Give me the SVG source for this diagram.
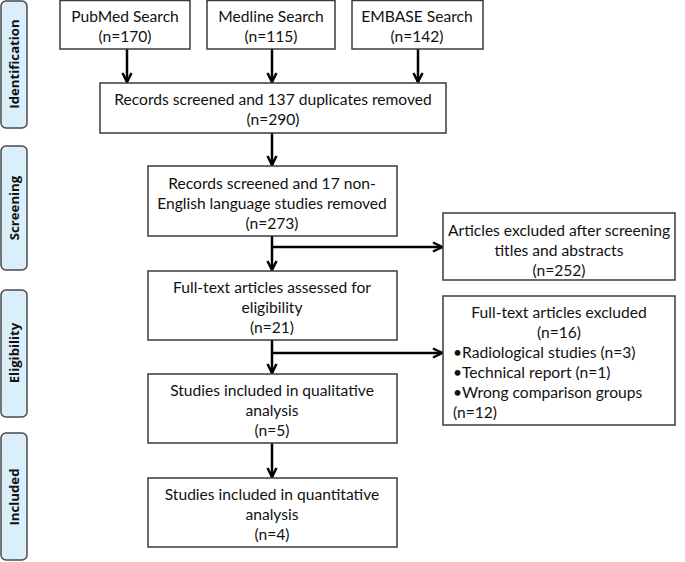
<svg xmlns="http://www.w3.org/2000/svg" width="685" height="562" viewBox="0 0 685 562">
<defs>
<style>
.box{fill:#fff;stroke:#3a3a3a;stroke-width:1.5}
.side{fill:#dbeefb;stroke:#4a4a4a;stroke-width:1.5}
.t{font-family:Lato,"Open Sans",sans-serif;font-size:15.6px;fill:#111;text-anchor:middle}
.tl{font-family:Lato,"Open Sans",sans-serif;font-size:15.6px;fill:#111}
.s{font-family:"Open Sans","DejaVu Sans",sans-serif;font-size:13.2px;font-weight:bold;fill:#111;text-anchor:middle}
.c{stroke:#000;stroke-width:2.5;fill:none;marker-end:url(#ah)}
</style>
<marker id="ah" viewBox="0 0 10 10" refX="9" refY="5" markerWidth="4.5" markerHeight="4.5" orient="auto" markerUnits="strokeWidth">
<path d="M1,1 L9,5 L1,9" fill="none" stroke="#000" stroke-width="2.2"/>
</marker>
</defs>
<rect width="685" height="562" fill="#fff"/>

<g id="side-identification"><rect class="side" x="1" y="1" width="26" height="127" rx="5"/><text class="s" transform="translate(18.8,64) rotate(-90)">Identification</text></g>
<g id="side-screening"><rect class="side" x="1" y="146" width="26" height="124" rx="5"/><text class="s" transform="translate(18.8,208) rotate(-90)">Screening</text></g>
<g id="side-eligibility"><rect class="side" x="1" y="290" width="26" height="127" rx="5"/><text class="s" transform="translate(18.8,353) rotate(-90)">Eligibility</text></g>
<g id="side-included"><rect class="side" x="1" y="433" width="26" height="127" rx="5"/><text class="s" transform="translate(18.8,497) rotate(-90)">Included</text></g>

<g id="connectors">
<line class="c" x1="127" y1="49" x2="127" y2="82"/>
<line class="c" x1="272" y1="49" x2="272" y2="82"/>
<line class="c" x1="418" y1="49" x2="418" y2="82"/>
<line class="c" x1="272" y1="133" x2="272" y2="165"/>
<line class="c" x1="272" y1="236" x2="272" y2="270"/>
<line class="c" x1="272" y1="247" x2="442" y2="247"/>
<line class="c" x1="272" y1="340" x2="272" y2="373"/>
<line class="c" x1="272" y1="353" x2="442" y2="353"/>
<line class="c" x1="272" y1="443" x2="272" y2="477"/>
</g>

<g id="pubmed"><rect class="box" x="60" y="0.5" width="130" height="48.5"/><text class="t" x="125" y="21.5">PubMed Search</text><text class="t" x="125" y="41.5">(n=170)</text></g>
<g id="medline"><rect class="box" x="207" y="0.5" width="128" height="48.5"/><text class="t" x="271" y="21.5">Medline Search</text><text class="t" x="271" y="41.5">(n=115)</text></g>
<g id="embase"><rect class="box" x="352" y="0.5" width="131" height="48.5"/><text class="t" x="417" y="21.5">EMBASE Search</text><text class="t" x="417" y="41.5">(n=142)</text></g>

<g id="records"><rect class="box" x="100" y="83" width="346" height="50"/><text class="t" x="273" y="104.5">Records screened and 137 duplicates removed</text><text class="t" x="273" y="124.5">(n=290)</text></g>

<g id="screened"><rect class="box" x="148" y="166" width="249" height="70"/><text class="t" x="272" y="188.5">Records screened and 17 non-</text><text class="t" x="272" y="208.5">English language studies removed</text><text class="t" x="272" y="228.5">(n=273)</text></g>

<g id="excluded-titles"><rect class="box" x="443" y="213" width="232" height="67"/><text class="t" x="559" y="235.5">Articles excluded after screening</text><text class="t" x="559" y="255.5">titles and abstracts</text><text class="t" x="559" y="275.5">(n=252)</text></g>

<g id="fulltext"><rect class="box" x="148" y="271" width="249" height="69"/><text class="t" x="272" y="292.5">Full-text articles assessed for</text><text class="t" x="272" y="312.5">eligibility</text><text class="t" x="272" y="332.5">(n=21)</text></g>

<g id="excluded-fulltext"><rect class="box" x="443" y="296" width="232" height="129"/><text class="t" x="559" y="317.5">Full-text articles excluded</text><text class="t" x="559" y="337.5">(n=16)</text><text class="tl" x="453" y="357.5">•Radiological studies (n=3)</text><text class="tl" x="453" y="377.5">•Technical report (n=1)</text><text class="tl" x="453" y="397.5">•Wrong comparison groups</text><text class="tl" x="453" y="417.5">(n=12)</text></g>

<g id="qualitative"><rect class="box" x="148" y="374" width="249" height="69"/><text class="t" x="272" y="395.5">Studies included in qualitative</text><text class="t" x="272" y="415.5">analysis</text><text class="t" x="272" y="435.5">(n=5)</text></g>

<g id="quantitative"><rect class="box" x="148" y="478" width="249" height="69"/><text class="t" x="272" y="499.5">Studies included in quantitative</text><text class="t" x="272" y="519.5">analysis</text><text class="t" x="272" y="539.5">(n=4)</text></g>
</svg>
